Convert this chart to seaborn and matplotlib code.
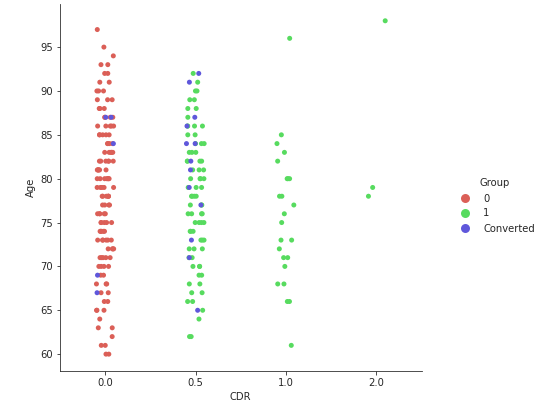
import matplotlib
matplotlib.use("Agg")
import matplotlib.pyplot as plt
import pandas as pd
import numpy as np
import seaborn as sns

# ages, per CDR / group
cdr0_group0 = [60, 60, 61, 61, 62, 63, 63, 64, 65, 65, 65, 66, 66, 67, 67, 68, 68, 68, 69, 69,
               70, 70, 70, 70, 71, 71, 71, 71, 71, 72, 72, 72, 72, 73, 73, 73, 73, 73, 73,
               74, 74, 74, 74, 74, 75, 75, 75, 75, 75, 76, 76, 76, 76, 76, 77, 77, 77, 77,
               78, 78, 78, 78, 78, 78, 79, 79, 79, 79, 79, 80, 80, 80, 80, 80, 80, 80,
               81, 81, 81, 81, 81, 81, 82, 82, 82, 82, 82, 82, 83, 83, 83, 83, 83,
               84, 84, 84, 84, 85, 85, 85, 85, 85, 86, 86, 86, 86, 86, 87, 87, 87, 87,
               88, 88, 88, 89, 89, 89, 90, 90, 90, 91, 91, 92, 92, 93, 93, 94, 95, 97]
cdr0_conv = [67, 69, 84, 87, 87]
cdr05_group1 = [62, 62, 64, 65, 66, 66, 67, 67, 68, 68, 69, 69, 70, 70, 70, 71, 71, 72, 72, 72,
                73, 73, 73, 74, 74, 74, 75, 75, 75, 75, 76, 76, 76, 76, 77, 77, 77, 78, 78, 78,
                78, 79, 79, 79, 80, 80, 80, 80, 81, 81, 81, 82, 82, 82, 82, 83, 83, 83, 84, 84,
                84, 85, 85, 86, 86, 86, 86, 87, 88, 88, 89, 89, 90, 90, 91, 92]
cdr05_conv = [65, 71, 73, 77, 79, 81, 82, 84, 84, 86, 87, 91, 92]
cdr1_group1 = [61, 66, 66, 68, 68, 70, 71, 71, 72, 73, 73, 75, 76, 77, 78, 78, 80, 80, 80,
               82, 83, 84, 85, 96]
cdr2_group1 = [78, 79, 98]

rows = []
for ages, cdr, grp in [(cdr0_group0, 0.0, "0"), (cdr0_conv, 0.0, "Converted"),
                       (cdr05_group1, 0.5, "1"), (cdr05_conv, 0.5, "Converted"),
                       (cdr1_group1, 1.0, "1"), (cdr2_group1, 2.0, "1")]:
    for a in ages:
        rows.append({"CDR": cdr, "Age": a, "Group": grp})
df = pd.DataFrame(rows)

np.random.seed(3)
sns.set_style("ticks")
g = sns.catplot(data=df, x="CDR", y="Age", hue="Group", kind="strip",
                hue_order=["0", "1", "Converted"], palette=sns.color_palette("hls", 3),
                height=5.6, aspect=1.0)
g.ax.set_yticks([60, 65, 70, 75, 80, 85, 90, 95])
for h in g._legend.legend_handles:
    try:
        h.set_markersize(9)
    except AttributeError:
        h.set_sizes([80])
g.figure.set_size_inches(544 / 72, 412 / 72)
g.figure.subplots_adjust(left=0.11, right=0.775, bottom=0.1, top=0.99)
g.figure.savefig("out.png", dpi=72)
